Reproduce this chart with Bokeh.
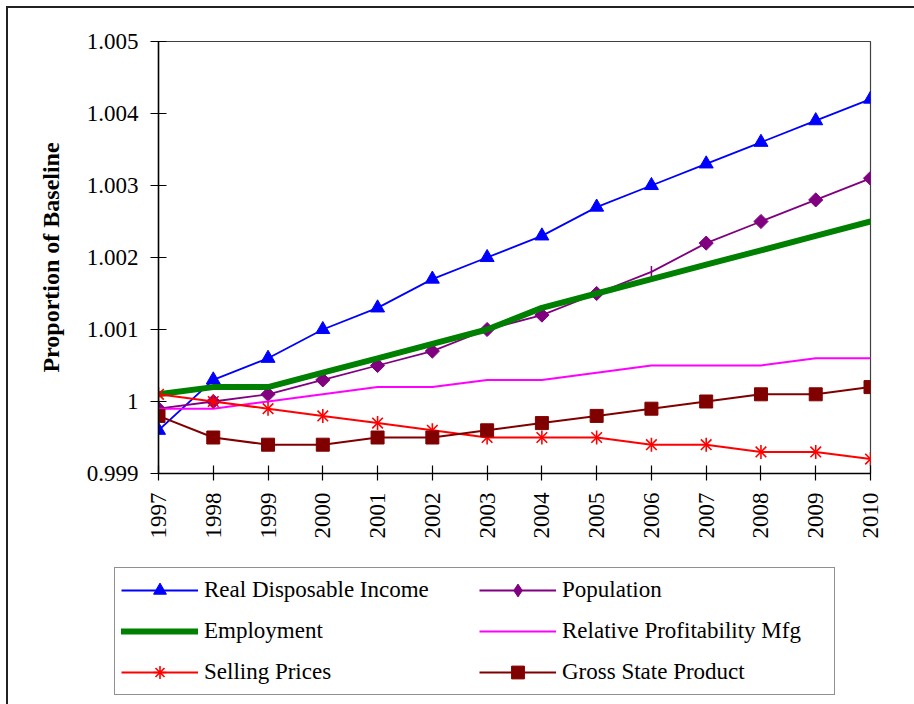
import math
from bokeh.plotting import figure
from bokeh.layouts import column
from bokeh.models import (FixedTicker, CustomJSTickFormatter, Legend, LegendItem, Range1d)
from bokeh.embed import file_html
from bokeh.resources import INLINE

years = list(range(1997, 2011))
real_disposable_income = [0.9996, 1.0003, 1.0006, 1.0010, 1.0013, 1.0017, 1.0020,
                          1.0023, 1.0027, 1.0030, 1.0033, 1.0036, 1.0039, 1.0042]
population = [0.9999, 1.0000, 1.0001, 1.0003, 1.0005, 1.0007, 1.0010,
              1.0012, 1.0015, 1.0018, 1.0022, 1.0025, 1.0028, 1.0031]
employment = [1.0001, 1.0002, 1.0002, 1.0004, 1.0006, 1.0008, 1.0010,
              1.0013, 1.0015, 1.0017, 1.0019, 1.0021, 1.0023, 1.0025]
relative_profitability_mfg = [0.9999, 0.9999, 1.0000, 1.0001, 1.0002, 1.0002, 1.0003,
                              1.0003, 1.0004, 1.0005, 1.0005, 1.0005, 1.0006, 1.0006]
selling_prices = [1.0001, 1.0000, 0.9999, 0.9998, 0.9997, 0.9996, 0.9995,
                  0.9995, 0.9995, 0.9994, 0.9994, 0.9993, 0.9993, 0.9992]
gross_state_product = [0.9998, 0.9995, 0.9994, 0.9994, 0.9995, 0.9995, 0.9996,
                       0.9997, 0.9998, 0.9999, 1.0000, 1.0001, 1.0001, 1.0002]
y_ticks = [0.999, 1.000, 1.001, 1.002, 1.003, 1.004, 1.005]
series_labels = ["Real Disposable Income", "Population", "Employment",
                 "Relative Profitability Mfg", "Selling Prices", "Gross State Product"]
# the 2006 population point shows no diamond in the original, only a small stroke
population_missing_marker_year = 2006

FONT = "Liberation Serif"
LINE = "#222"

# ---------------- chart figure ----------------
p = figure(width=914, height=567, output_backend="svg", toolbar_location=None,
           x_range=Range1d(1997, 2010), y_range=Range1d(0.999, 1.005),
           min_border_left=158, min_border_right=44, min_border_top=41,
           min_border_bottom=94)
p.frame_align = False
p.xgrid.visible = False
p.ygrid.visible = False
p.outline_line_color = "#404040"
p.outline_line_width = 1.2
p.background_fill_color = "white"
p.border_fill_alpha = 0
# outer chart-area border: only its left and top edges are visible in the original
p.styles = {
    "background": f"linear-gradient({LINE},{LINE}) 6px 6px / 2px calc(100% - 6px) no-repeat, "
                  f"linear-gradient({LINE},{LINE}) 6px 6px / calc(100% - 6px) 2px no-repeat, white"
}

for ax in (p.xaxis[0], p.yaxis[0]):
    ax.axis_line_color = "black"
    ax.axis_line_width = 1.5
    ax.major_tick_line_color = "black"
    ax.major_tick_line_width = 1.2
    ax.minor_tick_line_color = None
    ax.major_label_text_font = FONT
    ax.major_label_text_font_size = "23px"
    ax.major_label_text_color = "black"

p.yaxis.ticker = FixedTicker(ticks=y_ticks)
p.yaxis.formatter = CustomJSTickFormatter(code="return tick.toFixed(3).replace(/\\.?0+$/, '');")
p.yaxis.major_tick_in = 8
p.yaxis.major_tick_out = 8
p.yaxis.major_label_standoff = 12
p.yaxis.axis_label = "Proportion of Baseline"
p.yaxis.axis_label_text_font = FONT
p.yaxis.axis_label_text_font_size = "24px"
p.yaxis.axis_label_text_font_style = "bold"
p.yaxis.axis_label_text_color = "black"
p.yaxis.axis_label_standoff = 20

p.xaxis.ticker = FixedTicker(ticks=years)
p.xaxis.formatter = CustomJSTickFormatter(code="return tick.toFixed(0);")
p.xaxis.major_tick_in = 8
p.xaxis.major_tick_out = 7
p.xaxis.major_label_standoff = 12
p.xaxis.major_label_orientation = math.pi / 2

# styles per series
S_RDI = dict(line_color="#0000FF", line_width=1.8)
S_POP = dict(line_color="#800080", line_width=1.8)
S_EMP = dict(line_color="#008000", line_width=6)
S_RPM = dict(line_color="#FF00FF", line_width=2)
S_SP = dict(line_color="#FF0000", line_width=2)
S_GSP = dict(line_color="#800000", line_width=2)
M_RDI = dict(marker="triangle", size=14, fill_color="#0000FF", line_color="#0000FF")
M_POP = dict(marker="square", angle=math.pi / 4, size=10, fill_color="#800080", line_color="#800080")
M_SP1 = dict(marker="x", size=15, line_color="#FF0000", line_width=1.6)
M_SP2 = dict(marker="dash", angle=math.pi / 2, size=14, line_color="#FF0000", line_width=1.6)
M_GSP = dict(marker="square", size=13, fill_color="#800000", line_color="#800000")

p.line(years, real_disposable_income, **S_RDI)
p.scatter(years, real_disposable_income, **M_RDI)

pop_mark_x = [x for x in years if x != population_missing_marker_year]
pop_mark_y = [v for x, v in zip(years, population) if x != population_missing_marker_year]
pop_odd_y = [v for x, v in zip(years, population) if x == population_missing_marker_year]
p.line(years, population, **S_POP)
p.scatter(pop_mark_x, pop_mark_y, **M_POP)
p.scatter([population_missing_marker_year], pop_odd_y, marker="dash", angle=math.pi / 2,
          size=12, line_color="#800080", line_width=1.5)

p.line(years, employment, **S_EMP)
p.line(years, relative_profitability_mfg, **S_RPM)

p.line(years, selling_prices, **S_SP)
p.scatter(years, selling_prices, **M_SP1)
p.scatter(years, selling_prices, **M_SP2)

p.line(years, gross_state_product, **S_GSP)
p.scatter(years, gross_state_product, **M_GSP)

# ---------------- legend figure ----------------
# The same series are drawn here, but its ranges keep them out of view: only
# the legend (built from these renderers) is visible in this strip.
q = figure(width=914, height=137, output_backend="svg", toolbar_location=None,
           x_range=Range1d(0, 1), y_range=Range1d(0, 1),
           x_axis_type=None, y_axis_type=None,
           min_border_left=114, min_border_right=20, min_border_top=0,
           min_border_bottom=0)
q.frame_align = False
q.xgrid.visible = False
q.ygrid.visible = False
q.outline_line_color = None
q.background_fill_alpha = 0
q.border_fill_alpha = 0
q.styles = {
    "background": f"linear-gradient({LINE},{LINE}) 6px 0px / 2px 100% no-repeat, white"
}

g_rdi = [q.line(years, real_disposable_income, **S_RDI),
         q.scatter(years, real_disposable_income, **M_RDI)]
g_pop = [q.line(years, population, **S_POP),
         q.scatter(years, population, marker="diamond", size=10,
                   fill_color="#800080", line_color="#800080")]
g_emp = [q.line(years, employment, **S_EMP, line_cap="round")]
g_rpm = [q.line(years, relative_profitability_mfg, **S_RPM)]
g_sp = [q.line(years, selling_prices, **S_SP),
        q.scatter(years, selling_prices, marker="asterisk", size=14,
                  line_color="#FF0000", line_width=1.6)]
g_gsp = [q.line(years, gross_state_product, **S_GSP),
         q.scatter(years, gross_state_product, **M_GSP)]

items = [LegendItem(label=lab, renderers=r) for lab, r in
         zip(series_labels, [g_rdi, g_pop, g_emp, g_rpm, g_sp, g_gsp])]
legend = Legend(items=items, location="top_left", orientation="horizontal", ncols=2,
                padding=6, spacing=9, glyph_width=77, glyph_height=32,
                label_height=21, label_width=266, label_standoff=6,
                label_text_font=FONT, label_text_font_size="23px",
                label_text_color="black",
                border_line_color=LINE, border_line_width=1.5,
                background_fill_color="white", background_fill_alpha=1.0,
                margin=0)
q.add_layout(legend, "center")

layout = column(p, q, spacing=0)
open("out.html", "w").write(file_html(layout, INLINE))
